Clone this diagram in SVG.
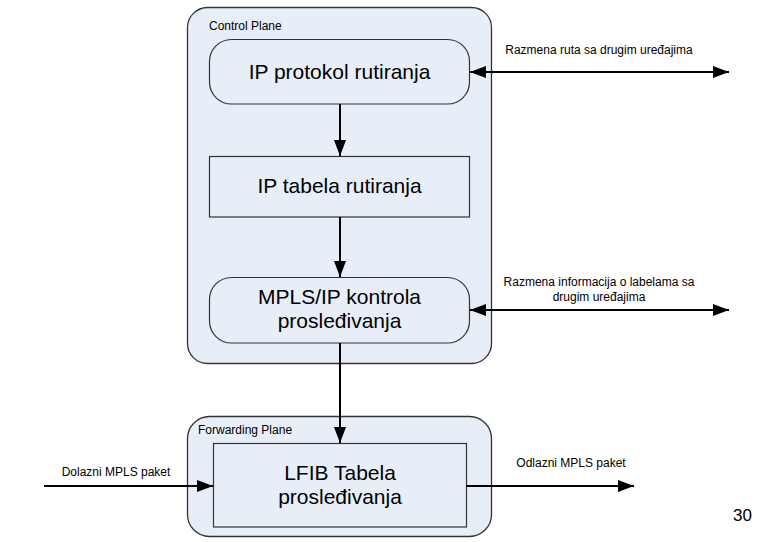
<svg xmlns="http://www.w3.org/2000/svg" width="766" height="542" viewBox="0 0 766 542">
<defs>
<marker id="ah" viewBox="0 0 16 12" refX="16" refY="6" markerWidth="16" markerHeight="12" markerUnits="userSpaceOnUse" orient="auto-start-reverse">
<path d="M0,0 L16,6 L0,12 Z" fill="#000"/>
</marker>
</defs>
<style>
.plane{fill:#e8eef8;stroke:#333;stroke-width:1.3}
.node{fill:#e8eef8;stroke:#333;stroke-width:1.2}
.big{font-family:"Liberation Sans",Arial,sans-serif;font-size:21px;fill:#000;text-anchor:middle}
.small{font-family:"Liberation Sans",Arial,sans-serif;font-size:12px;fill:#000}
.conn{stroke:#000;stroke-width:2;fill:none}
</style>
<rect width="766" height="542" fill="#fff"/>
<g id="control-plane">
<rect class="plane" x="187.5" y="7.5" width="304" height="356" rx="20"/>
<text class="small" x="209" y="30">Control Plane</text>
</g>
<g id="forwarding-plane">
<rect class="plane" x="187.5" y="416.5" width="304" height="120" rx="22"/>
<text class="small" x="198" y="434">Forwarding Plane</text>
</g>
<g id="ip-protokol">
<rect class="node" x="209.5" y="39.5" width="260" height="64.5" rx="22"/>
<text class="big" x="339.5" y="79">IP protokol rutiranja</text>
</g>
<g id="ip-tabela">
<rect class="node" x="209.5" y="156.5" width="260" height="60.5"/>
<text class="big" x="339.5" y="193">IP tabela rutiranja</text>
</g>
<g id="mpls-ip">
<rect class="node" x="209.5" y="277.5" width="260" height="65.5" rx="22"/>
<text class="big" x="339.5" y="304">MPLS/IP kontrola</text>
<text class="big" x="339.5" y="328">prosleđivanja</text>
</g>
<g id="lfib">
<rect class="node" x="213.5" y="443.5" width="253" height="83.5"/>
<text class="big" x="340" y="480">LFIB Tabela</text>
<text class="big" x="340" y="504">prosleđivanja</text>
</g>
<g id="connectors">
<line class="conn" x1="340" y1="104" x2="340" y2="156" marker-end="url(#ah)"/>
<line class="conn" x1="340" y1="217" x2="340" y2="277" marker-end="url(#ah)"/>
<line class="conn" x1="340" y1="343" x2="340" y2="443" marker-end="url(#ah)"/>
<line class="conn" x1="470" y1="72" x2="729" y2="72" marker-start="url(#ah)" marker-end="url(#ah)"/>
<line class="conn" x1="470" y1="310" x2="729" y2="310" marker-start="url(#ah)" marker-end="url(#ah)"/>
<line class="conn" x1="44" y1="486" x2="213" y2="486" marker-end="url(#ah)"/>
<line class="conn" x1="466" y1="486" x2="634" y2="486" marker-end="url(#ah)"/>
<text class="small" x="599" y="54" text-anchor="middle">Razmena ruta sa drugim uređajima</text>
<text class="small" x="599" y="286" text-anchor="middle">Razmena informacija o labelama sa</text>
<text class="small" x="599" y="301" text-anchor="middle">drugim uređajima</text>
<text class="small" x="116" y="476" text-anchor="middle">Dolazni MPLS paket</text>
<text class="small" x="571" y="467" text-anchor="middle">Odlazni MPLS paket</text>
</g>
<text x="742.5" y="521" font-family="Liberation Sans,Arial,sans-serif" font-size="17" text-anchor="middle" fill="#000">30</text>
</svg>
